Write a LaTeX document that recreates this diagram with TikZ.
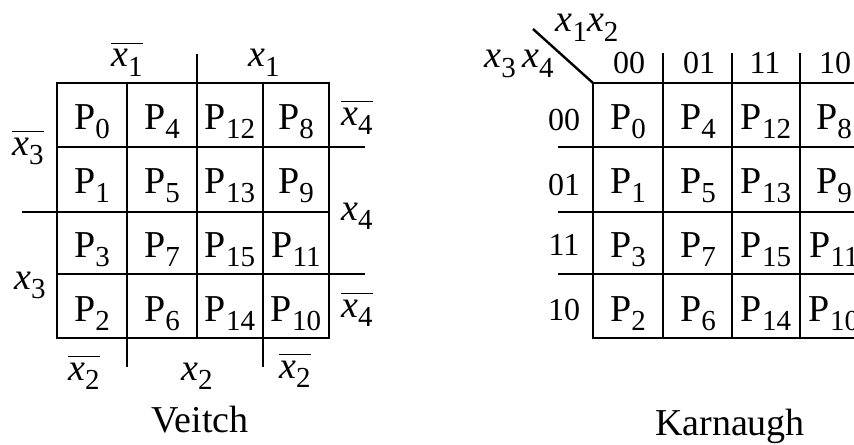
\documentclass[tikz,border=0pt]{standalone}
\usepackage{fontspec}
\setmainfont{Liberation Serif}
\newcommand{\subsz}{\fontsize{14.5}{17}\selectfont}
\newcommand{\Pc}[1]{P\raisebox{-0.26em}{\subsz #1}}
\newcommand{\xv}[1]{\textit{x}\raisebox{-0.26em}{\subsz #1}}
\newcommand{\nx}[1]{\vbox{\hrule height 0.8pt\kern 2.6pt\hbox{\xv{#1}}}}
\tikzset{
  gridline/.style={line width=1.2pt},
  cell/.style={inner sep=0pt, anchor=base},
  code/.style={inner sep=0pt, anchor=base, font=\fontsize{16}{19}\selectfont}
}

\begin{document}
\begin{tikzpicture}[x=0.5pt, y=-0.5pt, font=\fontsize{19}{23}\selectfont]
  \useasboundingbox (0,0) rectangle (854,444);
  \clip (0,0) rectangle (854,444);
  % Veitch grid
  \draw[gridline] (57,83) rectangle (329,338);
  \foreach \x in {127,197,263} \draw[gridline] (\x,83) -- (\x,338);
  \foreach \y in {147,212,274} \draw[gridline] (57,\y) -- (329,\y);
  \draw[gridline] (197,54) -- (197,83);
  \draw[gridline] (22,212) -- (57,212);
  \draw[gridline] (329,147) -- (365,147) (329,274) -- (365,274);
  \draw[gridline] (127,338) -- (127,367) (263,338) -- (263,367);
  % Veitch cells
  \foreach \y/\a/\b/\c/\d in {129/0/4/12/8, 193/1/5/13/9, 257/3/7/15/11, 321/2/6/14/10}
    \foreach \x/\n in {92/\a, 162/\b, 230/\c, 296/\d}
      \node[cell] (v\n) at (\x,\y) {\Pc{\n}};
  % Veitch variables
  \node[cell] (vx1n) at (127,67) {\nx{1}};
  \node[cell] (vx1) at (264,67) {\xv{1}};
  \node[cell] (vx4a) at (357,125) {\nx{4}};
  \node[cell] (vx4) at (357,220) {\xv{4}};
  \node[cell] (vx4b) at (357,317) {\nx{4}};
  \node[cell] (vx3n) at (28,155) {\nx{3}};
  \node[cell] (vx3) at (30,289) {\xv{3}};
  \node[cell] (vx2a) at (84,380) {\nx{2}};
  \node[cell] (vx2) at (197,380) {\xv{2}};
  \node[cell] (vx2b) at (295,378) {\nx{2}};
  \node[cell] (veitch) at (200,432) {Veitch};
  % Karnaugh grid
  \draw[gridline] (593,83) rectangle (868,338);
  \foreach \x in {663,732,800} \draw[gridline] (\x,53) -- (\x,338);
  \foreach \y in {147,212,274} \draw[gridline] (558,\y) -- (868,\y);
  \draw[gridline] (533,29) -- (593,83);
  % Karnaugh cells
  \foreach \y/\a/\b/\c/\d in {129/0/4/12/8, 193/1/5/13/9, 257/3/7/15/11, 321/2/6/14/10}
    \foreach \x/\n in {628/\a, 698/\b, 766/\c, 834/\d}
      \node[cell] (k\n) at (\x,\y) {\Pc{\n}};
  % Karnaugh codes
  \foreach \x/\s in {629/00, 699/01, 765/11, 835/10}
    \node[code] (kc\s) at (\x,74) {\s};
  \foreach \y/\s in {130/00, 195/01, 255/11, 320/10}
    \node[code] (kr\s) at (564,\y) {\s};
  \node[cell] (kx12) at (587,32) {\xv{1}\xv{2}};
  \node[cell] (kx34) at (519,68) {\xv{3}\,\xv{4}};
  \node[cell] (karnaugh) at (730,435) {Karnaugh};
\end{tikzpicture}
\end{document}
